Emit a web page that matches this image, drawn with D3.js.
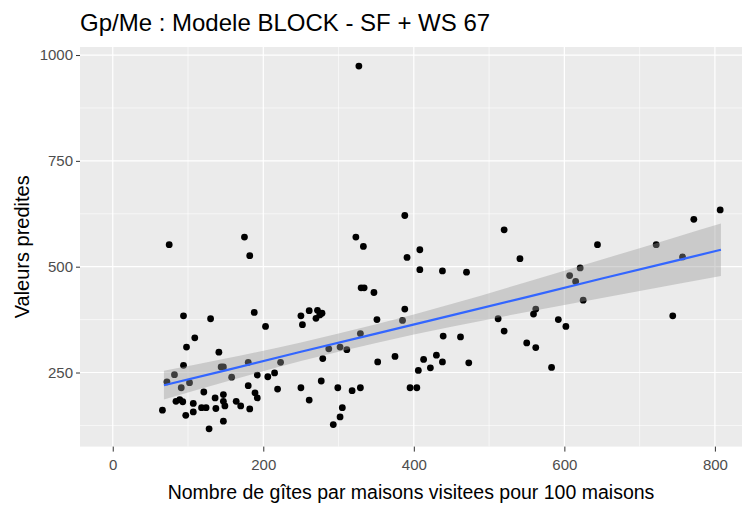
<!DOCTYPE html>
<html lang="fr">
<head>
  <meta charset="utf-8">
  <title>Gp/Me : Modele BLOCK - SF + WS 67</title>
  <script src="https://d3js.org/d3.v7.min.js"></script>
  <style>
    body { margin: 0; background: #fff; }
    svg text { font-family: "Liberation Sans", Arial, sans-serif; }
    .tick text { fill: #4d4d4d; font-size: 15px; }
    .tick line { stroke: #333; }
  </style>
</head>
<body>
<svg width="749" height="505"></svg>

<script>
  // points (x = gites / 100 maisons, y = valeur predite)
  var gites = [75, 175, 182, 94, 130, 188, 203, 109, 98, 141, 94, 144, 147, 180, 223, 82, 72, 91, 102, 158,
               192, 206, 215, 219, 180, 121, 189, 192, 66, 84, 89, 93, 97, 107, 107, 118, 124, 136, 137, 147,
               147, 149, 164, 170, 182, 147, 128,
               388, 323, 333, 391, 408, 408, 438, 330, 334, 347, 250, 261, 272, 278, 275, 270, 252, 351, 388,
               385, 329, 287, 302, 311, 279, 352, 375, 439, 430, 438, 413, 422, 406, 277, 250, 299, 318, 329,
               395, 404, 261, 305, 302, 293,
               520, 541, 470, 621, 607, 615, 625, 562, 559, 512, 520, 592, 602, 462, 550, 562, 473, 583,
               644, 722, 772, 807, 757, 744, 327];
  var predites = [552, 570, 526, 384, 377, 392, 359, 332, 310, 298, 267, 263, 263, 274, 274, 245, 228, 214, 226, 239,
                  244, 240, 249, 211, 219, 204, 202, 190, 161, 182, 186, 181, 149, 177, 157, 167, 167, 190, 165, 198,
                  182, 171, 182, 171, 164, 135, 117,
                  621, 570, 548, 522, 540, 493, 490, 450, 450, 439, 384, 396, 397, 390, 386, 378, 363, 375, 400,
                  373, 342, 306, 310, 304, 283, 275, 288, 336, 291, 275, 281, 261, 255, 230, 214, 214, 207, 214,
                  214, 214, 185, 167, 145, 127,
                  587, 519, 487, 497, 479, 465, 421, 400, 388, 377, 348, 375, 359, 334, 320, 309, 273, 262,
                  552, 552, 612, 634, 523, 384, 974];

  // droite lm et bande de confiance
  var fitX  = [68, 150, 250, 350, 450, 550, 650, 750, 808];
  var fitY  = [220, 255, 299, 342, 385, 428, 472, 515, 540];
  var fitLo = [186, 228, 277, 320, 358, 393, 426, 459, 478];
  var fitHi = [254, 283, 321, 364, 412, 464, 517, 571, 602];

  var xTicks = [0, 200, 400, 600, 800],
      xMinor = [100, 300, 500, 700],
      yTicks = [250, 500, 750, 1000],
      yMinor = [125, 375, 625, 875];

  var svg = d3.select("svg"),
      panel = {left: 80, right: 742, top: 47, bottom: 446.6};

  var x = d3.scaleLinear().domain([-43.5, 836]).range([panel.left, panel.right]);
  var y = d3.scaleLinear().domain([75, 1019]).range([panel.bottom, panel.top]);

  svg.append("rect")
      .attr("x", panel.left)
      .attr("y", panel.top)
      .attr("width", panel.right - panel.left)
      .attr("height", panel.bottom - panel.top)
      .attr("fill", "#ebebeb");

  var grid = svg.append("g");
  grid.selectAll(".vminor").data(xMinor).enter().append("line")
      .attr("x1", x).attr("x2", x)
      .attr("y1", panel.top).attr("y2", panel.bottom)
      .attr("stroke", "#fff").attr("stroke-width", 0.6);
  grid.selectAll(".hminor").data(yMinor).enter().append("line")
      .attr("y1", y).attr("y2", y)
      .attr("x1", panel.left).attr("x2", panel.right)
      .attr("stroke", "#fff").attr("stroke-width", 0.6);
  grid.selectAll(".vmajor").data(xTicks).enter().append("line")
      .attr("x1", x).attr("x2", x)
      .attr("y1", panel.top).attr("y2", panel.bottom)
      .attr("stroke", "#fff").attr("stroke-width", 1.2);
  grid.selectAll(".hmajor").data(yTicks).enter().append("line")
      .attr("y1", y).attr("y2", y)
      .attr("x1", panel.left).attr("x2", panel.right)
      .attr("stroke", "#fff").attr("stroke-width", 1.2);

  // points
  svg.append("g").selectAll("circle")
      .data(d3.range(gites.length))
      .enter().append("circle")
      .attr("cx", function(i) { return x(gites[i]); })
      .attr("cy", function(i) { return y(predites[i]); })
      .attr("r", 3.4)
      .attr("fill", "#000");

  // geom_smooth(method = "lm")
  var fit = fitX.map(function(v, i) { return {x: v, y: fitY[i], lo: fitLo[i], hi: fitHi[i]}; });

  svg.append("path")
      .datum(fit)
      .attr("fill", "#999")
      .attr("fill-opacity", 0.4)
      .attr("d", d3.area()
          .x(function(d) { return x(d.x); })
          .y0(function(d) { return y(d.lo); })
          .y1(function(d) { return y(d.hi); })
          .curve(d3.curveMonotoneX));

  svg.append("path")
      .datum(fit)
      .attr("fill", "none")
      .attr("stroke", "#3366ff")
      .attr("stroke-width", 2.2)
      .attr("d", d3.line()
          .x(function(d) { return x(d.x); })
          .y(function(d) { return y(d.y); }));

  // axes
  svg.append("g")
      .attr("transform", "translate(0," + panel.bottom + ")")
      .call(d3.axisBottom(x).tickValues(xTicks).tickFormat(d3.format("d")).tickSize(5).tickPadding(8))
      .call(function(g) { g.select(".domain").remove(); });

  svg.append("g")
      .attr("transform", "translate(" + panel.left + ",0)")
      .call(d3.axisLeft(y).tickValues(yTicks).tickFormat(d3.format("d")).tickSize(4).tickPadding(3))
      .call(function(g) { g.select(".domain").remove(); });

  svg.append("text")
      .attr("x", (panel.left + panel.right) / 2)
      .attr("y", 499)
      .style("text-anchor", "middle")
      .style("font-size", "19.5px")
      .attr("fill", "#000")
      .text("Nombre de gîtes par maisons visitees pour 100 maisons");

  svg.append("text")
      .attr("transform", "rotate(-90)")
      .attr("x", -(panel.top + panel.bottom) / 2)
      .attr("y", 29)
      .style("text-anchor", "middle")
      .style("font-size", "20px")
      .attr("fill", "#000")
      .text("Valeurs predites");

  svg.append("text")
      .attr("x", 80)
      .attr("y", 31)
      .style("font-size", "24px")
      .attr("fill", "#000")
      .text("Gp/Me : Modele BLOCK - SF + WS 67");
</script>
</body>
</html>
